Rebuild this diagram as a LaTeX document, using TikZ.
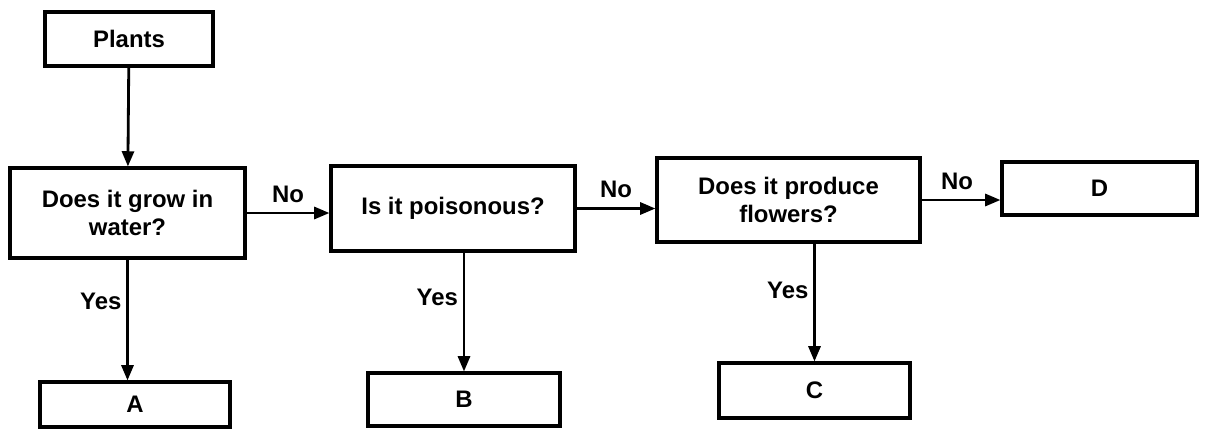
\documentclass[tikz,border=0pt]{standalone}
\usepackage{fontspec}
\setmainfont{Liberation Sans}
\usetikzlibrary{arrows.meta}

\tikzset{
  box/.style={draw, line width=2.2pt, align=center},
}

\begin{document}
\begin{tikzpicture}[x=0.025cm, y=-0.025cm, line width=2pt,
    >={Triangle[length=0.38cm,width=0.3cm]},
    every node/.style={font=\fontsize{17}{20}\selectfont\bfseries}]
    \useasboundingbox (0,0) rectangle (1205,429);
    \node[box, minimum width=4.2cm, minimum height=1.35cm] (01) at (129,39) {Plants};
    \node[box, minimum width=5.875cm, minimum height=2.25cm] (00) at (127.5,213) {Does it grow in\\water?};
    \node[box, minimum width=6.1cm, minimum height=2.125cm] (10) at (453,208.5) {Is it poisonous?};
    \node[box, minimum width=6.575cm, minimum height=2.1cm] (20) at (788.5,200) {Does it produce\\flowers?};
    \node[box, minimum width=4.875cm, minimum height=1.325cm] (30) at (1099.5,188.5) {D};
    \node[box, minimum width=4.75cm, minimum height=1.125cm] (0m1) at (135,404.5) {A};
    \node[box, minimum width=4.8cm, minimum height=1.325cm] (1m1) at (464,399.5) {B};
    \node[box, minimum width=4.775cm, minimum height=1.375cm] (2m1) at (814.5,390.5) {C};
    \draw[->] (01) -- (00);
    \draw[->] (00.east) -- (00.east -| 10.west)  node[pos=.5,above=3pt] {No};
    \draw[->] (10.east) -- (10.east -| 20.west)  node[pos=.5,above=3pt] {No};
    \draw[->] (20.east) -- (20.east -| 30.west)  node[pos=.45,above=3pt] {No};
    \draw[->] (00.south) -- (00.south |- 0m1.north)  node[pos=.35,left] {Yes};
    \draw[->] (10.south -| 1m1.north) -- (1m1.north)  node[pos=.38,left] {Yes};
    \draw[->] (20.south -| 2m1.north) -- (2m1.north)  node[pos=.4,left] {Yes};
  \end{tikzpicture}
\end{document}
